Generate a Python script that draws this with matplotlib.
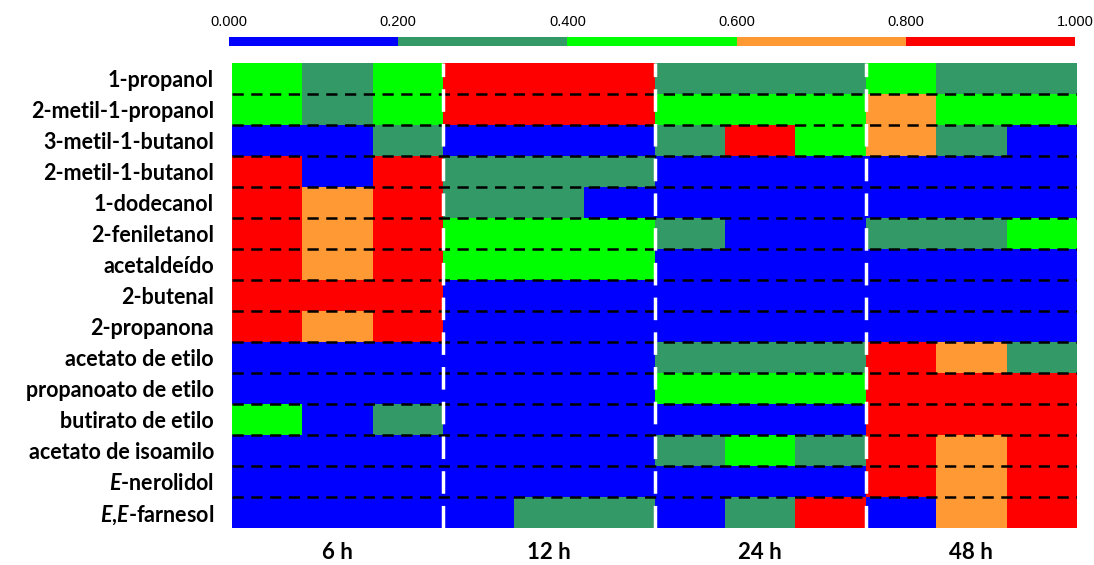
import numpy as np
import matplotlib
matplotlib.use("Agg")
import matplotlib.pyplot as plt
from matplotlib.colors import ListedColormap, BoundaryNorm

plt.rcParams['font.family'] = ['Lato', 'DejaVu Sans']
plt.rcParams['mathtext.fontset'] = 'custom'
plt.rcParams['mathtext.it'] = 'Lato:bold:italic'
plt.rcParams['mathtext.rm'] = 'Lato:bold'

compuestos = ["1-propanol", "2-metil-1-propanol", "3-metil-1-butanol",
              "2-metil-1-butanol", "1-dodecanol", "2-feniletanol",
              "acetaldeído", "2-butenal", "2-propanona", "acetato de etilo",
              "propanoato de etilo", "butirato de etilo", "acetato de isoamilo",
              r"$E$-nerolidol", r"$E$,$E$-farnesol"]
tiempos = ["6 h", "12 h", "24 h", "48 h"]

# valores normalizados (3 réplicas por tiempo)
v_6h = [[0.5, 0.3, 0.5], [0.5, 0.3, 0.5], [0.1, 0.1, 0.3], [0.9, 0.1, 0.9],
        [0.9, 0.7, 0.9], [0.9, 0.7, 0.9], [0.9, 0.7, 0.9], [0.9, 0.9, 0.9],
        [0.9, 0.7, 0.9], [0.1, 0.1, 0.1], [0.1, 0.1, 0.1], [0.5, 0.1, 0.3],
        [0.1, 0.1, 0.1], [0.1, 0.1, 0.1], [0.1, 0.1, 0.1]]
v_12h = [[0.9, 0.9, 0.9], [0.9, 0.9, 0.9], [0.1, 0.1, 0.1], [0.3, 0.3, 0.3],
         [0.3, 0.3, 0.1], [0.5, 0.5, 0.5], [0.5, 0.5, 0.5], [0.1, 0.1, 0.1],
         [0.1, 0.1, 0.1], [0.1, 0.1, 0.1], [0.1, 0.1, 0.1], [0.1, 0.1, 0.1],
         [0.1, 0.1, 0.1], [0.1, 0.1, 0.1], [0.1, 0.3, 0.3]]
v_24h = [[0.3, 0.3, 0.3], [0.5, 0.5, 0.5], [0.3, 0.9, 0.5], [0.1, 0.1, 0.1],
         [0.1, 0.1, 0.1], [0.3, 0.1, 0.1], [0.1, 0.1, 0.1], [0.1, 0.1, 0.1],
         [0.1, 0.1, 0.1], [0.3, 0.3, 0.3], [0.5, 0.5, 0.5], [0.1, 0.1, 0.1],
         [0.3, 0.5, 0.3], [0.1, 0.1, 0.1], [0.1, 0.3, 0.9]]
v_48h = [[0.5, 0.3, 0.3], [0.7, 0.5, 0.5], [0.7, 0.3, 0.1], [0.1, 0.1, 0.1],
         [0.1, 0.1, 0.1], [0.3, 0.3, 0.5], [0.1, 0.1, 0.1], [0.1, 0.1, 0.1],
         [0.1, 0.1, 0.1], [0.9, 0.7, 0.3], [0.9, 0.9, 0.9], [0.9, 0.9, 0.9],
         [0.9, 0.7, 0.9], [0.9, 0.7, 0.9], [0.1, 0.7, 0.9]]

colores = ["#0000FF", "#339966", "#00FF00", "#FF9933", "#FF0000"]
limites = [0.0, 0.2, 0.4, 0.6, 0.8, 1.0]

datos = np.hstack([np.array(v_6h), np.array(v_12h), np.array(v_24h), np.array(v_48h)])
nfil, ncol = datos.shape

cmap = ListedColormap(colores)
norm = BoundaryNorm(limites, cmap.N)

fig = plt.figure(figsize=(10.94, 5.65), dpi=100)
ax = fig.add_axes([0.2121, 0.0655, 0.7724, 0.823])
mesh = ax.pcolormesh(datos, cmap=cmap, norm=norm)
ax.set_xlim(0, ncol)
ax.set_ylim(nfil, 0)

for y in range(1, nfil):
    ax.axhline(y, color="black", lw=1.8, ls=(0, (4.5, 3)))
for x in range(3, ncol, 3):
    ax.axvline(x, color="white", lw=2.5, ls=(0, (6.5, 3.5)))

ax.set_yticks(np.arange(nfil) + 0.5)
ax.set_yticklabels(compuestos, fontsize=15.5, fontweight="bold")
ax.set_xticks(np.arange(1.5, ncol, 3))
ax.set_xticklabels(tiempos, fontsize=16, fontweight="bold")
ax.tick_params(length=0)
ax.tick_params(axis="y", pad=13)
ax.tick_params(axis="x", pad=10)
for s in ax.spines.values():
    s.set_visible(False)

cax = fig.add_axes([0.2093, 0.9186, 0.7733, 0.016])
cb = fig.colorbar(mesh, cax=cax, orientation="horizontal", ticks=limites)
cb.outline.set_visible(False)
cax.xaxis.set_ticks_position("top")
cax.set_xticklabels(["%.3f" % t for t in limites], fontsize=10.5,
                    family=["Liberation Sans Narrow", "Liberation Sans", "DejaVu Sans"])
cax.tick_params(length=0, pad=6)

fig.savefig("out.png", dpi=100)
